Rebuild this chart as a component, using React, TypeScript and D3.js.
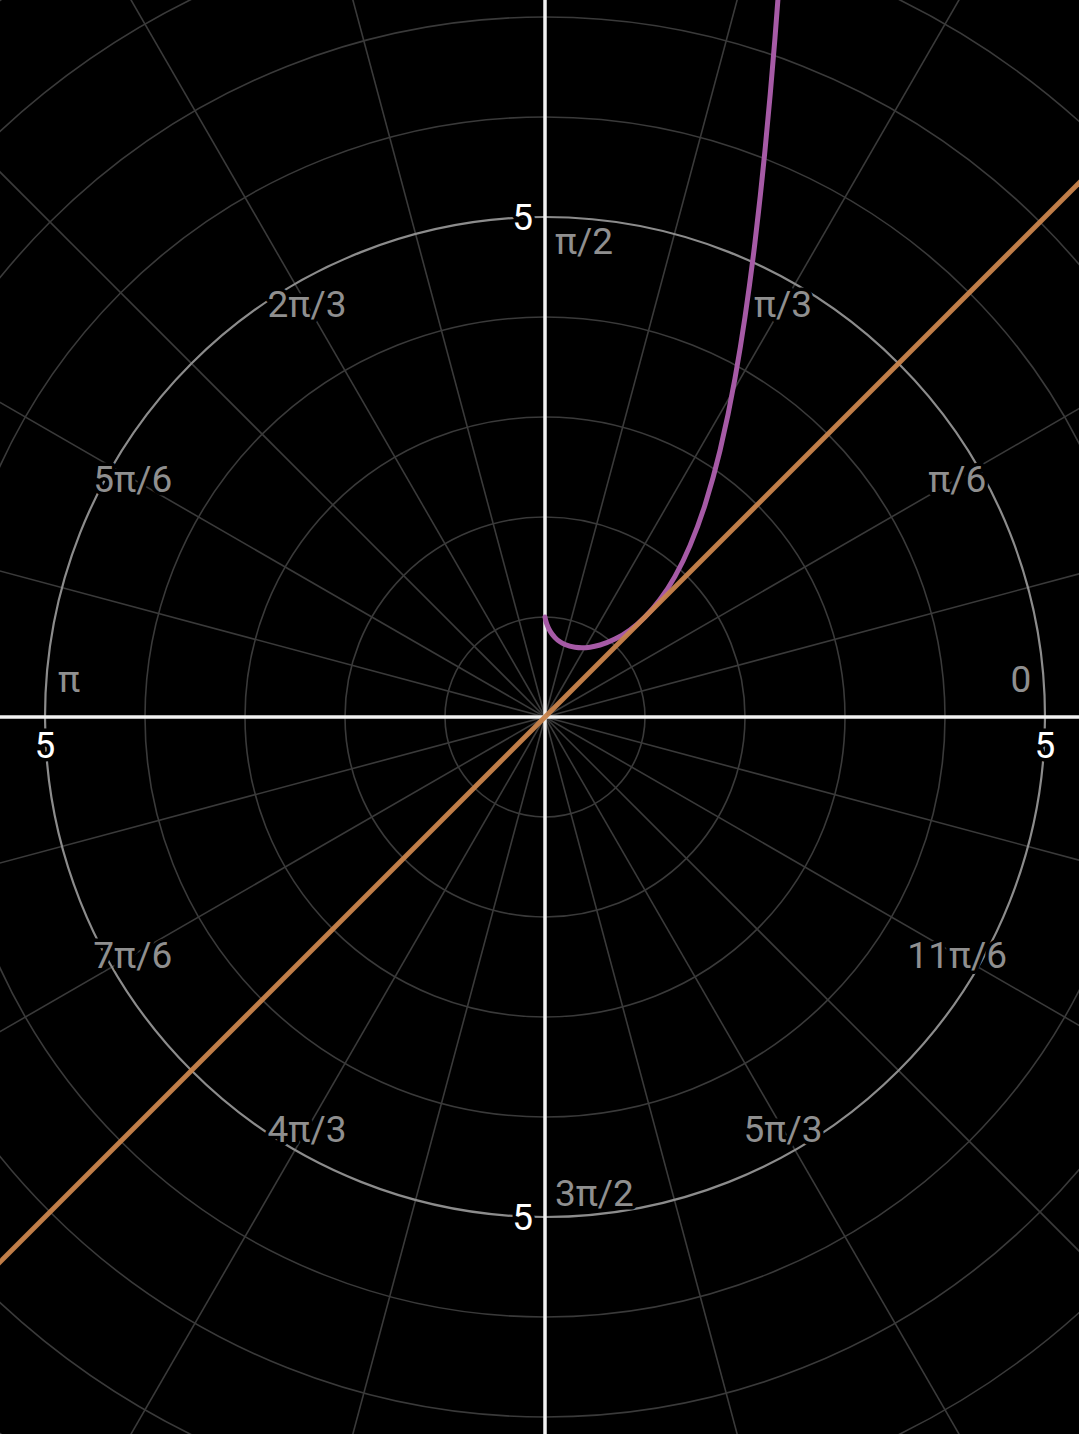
import React from 'react';
import * as d3 from 'd3';

const W = 1079;
const H = 1434;

// polar grid
const circleRadii = [1, 2, 3, 4, 5, 6, 7, 8, 9, 10];
const spokeCount = 24; // every pi/12
const angleLabels = ['0', 'π/6', 'π/3', 'π/2', '2π/3', '5π/6', 'π', '7π/6', '4π/3', '3π/2', '5π/3', '11π/6'];
const radiusTickLabel = '5';

// orange line (y = x), read at the frame edges
const lineXs = [-5.6, 5.6];
const lineYs = [-5.6, 5.6];

// purple curve, points
const curveXs = [0, 0.005, 0.01, 0.02, 0.04, 0.07, 0.1, 0.15, 0.2, 0.3, 0.37, 0.45, 0.55, 0.7, 0.85, 1, 1.15, 1.3, 1.45, 1.6, 1.75, 1.9, 2.0, 2.1, 2.2, 2.3, 2.35];
const curveYs = [1, 0.974, 0.955, 0.925, 0.879, 0.83, 0.794, 0.752, 0.725, 0.697, 0.692, 0.698, 0.72, 0.779, 0.871, 1, 1.174, 1.406, 1.714, 2.121, 2.663, 3.386, 4, 4.749, 5.667, 6.792, 7.448];

const FONT = 'Roboto, "Noto Sans", sans-serif';

const App: React.FC = () => {
  const x = d3.scaleLinear().domain([-5.45, 5.34]).range([0, W]);
  const y = d3.scaleLinear().domain([-7.17, 7.17]).range([H, 0]);
  const unit = x(1) - x(0);
  const cx = x(0);
  const cy = y(0);

  const polar = (r: number, t: number): [number, number] => [x(r * Math.cos(t)), y(r * Math.sin(t))];

  const curveLine = d3
    .line<number>()
    .x((d) => x(curveXs[d]))
    .y((d) => y(curveYs[d]))
    .curve(d3.curveMonotoneX);

  const straight = d3
    .line<number>()
    .x((d) => x(lineXs[d]))
    .y((d) => y(lineYs[d]));

  const spokes = d3.range(spokeCount).map((i) => (i * 2 * Math.PI) / spokeCount);
  const farR = 11;

  const halo = {
    paintOrder: 'stroke' as const,
    stroke: '#000',
    strokeWidth: 7,
    strokeLinejoin: 'round' as const,
  };

  return (
    <svg
      width={W}
      height={H}
      style={{ position: 'absolute', left: 0, top: 0, display: 'block', background: '#000' }}
    >
      <rect x={0} y={0} width={W} height={H} fill="#000" />

      {/* minor grid */}
      <g fill="none" stroke="#3a3a3a" strokeWidth={1.6}>
        {spokes.map((t, i) => {
          const [x2, y2] = polar(farR, t);
          return <line key={i} x1={cx} y1={cy} x2={x2} y2={y2} />;
        })}
        {circleRadii
          .filter((r) => r !== 5)
          .map((r) => (
            <circle key={r} cx={cx} cy={cy} r={r * unit} />
          ))}
      </g>
      <circle cx={cx} cy={cy} r={5 * unit} fill="none" stroke="#8c8c8c" strokeWidth={2.2} />

      {/* axes */}
      <line x1={0} x2={W} y1={cy} y2={cy} stroke="#f2f2f2" strokeWidth={3.5} />
      <line x1={cx} x2={cx} y1={0} y2={H} stroke="#f2f2f2" strokeWidth={3.5} />

      {/* angle labels */}
      <g fontFamily={FONT} fontSize={37} fill="#8f8f8f" style={halo}>
        {angleLabels.map((lab, i) => {
          const t = (i * Math.PI) / 6;
          const [lx, ly] = polar(4.76, t);
          if (i % 3 === 0) {
            if (i === 3 || i === 9) {
              return (
                <text key={lab} x={lx + 10} y={ly} dominantBaseline="central" textAnchor="start">
                  {lab}
                </text>
              );
            }
            return (
              <text key={lab} x={lx} y={ly - 38} dominantBaseline="central" textAnchor="middle">
                {lab}
              </text>
            );
          }
          return (
            <text key={lab} x={lx} y={ly} dominantBaseline="central" textAnchor="middle">
              {lab}
            </text>
          );
        })}
      </g>

      {/* radius tick labels */}
      <g fontFamily={FONT} fontSize={37} fill="#ffffff" style={halo}>
        <text x={x(5)} y={cy + 28} dominantBaseline="central" textAnchor="middle">
          {radiusTickLabel}
        </text>
        <text x={x(-5)} y={cy + 28} dominantBaseline="central" textAnchor="middle">
          {radiusTickLabel}
        </text>
        <text x={cx - 12} y={y(5)} dominantBaseline="central" textAnchor="end">
          {radiusTickLabel}
        </text>
        <text x={cx - 12} y={y(-5)} dominantBaseline="central" textAnchor="end">
          {radiusTickLabel}
        </text>
      </g>

      {/* curves */}
      <path
        d={curveLine(d3.range(curveXs.length)) || ''}
        fill="none"
        stroke="#a65aa6"
        strokeWidth={5}
        strokeLinecap="round"
      />
      <path
        d={straight(d3.range(lineXs.length)) || ''}
        fill="none"
        stroke="#c8834b"
        strokeWidth={5}
        opacity={0.95}
      />
    </svg>
  );
};

export default App;
